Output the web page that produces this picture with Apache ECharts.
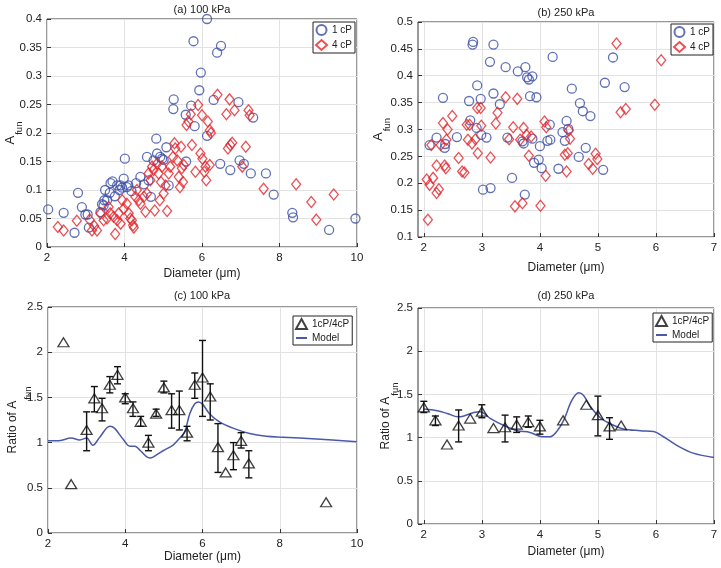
<!DOCTYPE html>
<html><head><meta charset="utf-8">
<script src="https://cdn.jsdelivr.net/npm/echarts@6/dist/echarts.min.js"></script>
<style>html,body{margin:0;padding:0;background:#fff}#c{width:721px;height:568px}</style>
</head><body><div id="c"></div>
<script>
// ---------- data ----------
const titles = ['(a) 100 kPa', '(b) 250 kPa', '(c) 100 kPa', '(d) 250 kPa'];
const xName = 'Diameter (\u03bcm)';
const ticksB = [2, 3, 4, 5, 6, 7];

// (a) 100 kPa, 1 cP
const a1cP = [[2.03,0.066],[2.43,0.060],[2.71,0.025],[2.80,0.095],[2.90,0.070],[2.99,0.057],[3.05,0.057],[3.08,0.034],
[3.38,0.061],[3.42,0.075],[3.46,0.073],[3.48,0.082],[3.50,0.100],[3.55,0.082],[3.62,0.095],[3.64,0.112],[3.69,0.115],
[3.75,0.089],[3.81,0.108],[3.87,0.100],[3.90,0.108],[3.94,0.104],[3.98,0.120],[4.01,0.155],[4.06,0.105],[4.10,0.108],
[4.18,0.098],[4.30,0.112],[4.41,0.123],[4.50,0.110],[4.58,0.158],[4.62,0.117],[4.68,0.088],[4.75,0.152],[4.82,0.190],
[4.84,0.164],[4.92,0.158],[4.97,0.155],[5.01,0.153],[5.08,0.175],[5.14,0.108],[5.26,0.242],[5.27,0.259],[5.58,0.232],
[5.59,0.150],[5.72,0.248],[5.78,0.361],[5.81,0.212],[5.93,0.275],[5.97,0.306],[6.13,0.400],[6.13,0.195],[6.30,0.258],
[6.39,0.341],[6.49,0.353],[6.47,0.146],[6.73,0.135],[6.94,0.254],[6.97,0.152],[7.08,0.146],[7.26,0.129],[7.32,0.227],
[7.65,0.129],[7.85,0.092],[8.33,0.060],[8.35,0.052],[9.28,0.030],[9.96,0.050]];
// (a) 100 kPa, 4 cP
const a4cP = [[2.28,0.035],[2.43,0.029],[2.77,0.046],[3.10,0.048],[3.16,0.029],[3.29,0.029],[3.22,0.037],[3.38,0.059],
[3.46,0.047],[3.55,0.050],[3.59,0.070],[3.63,0.059],[3.72,0.053],[3.76,0.023],[3.81,0.047],[3.85,0.059],[3.90,0.041],
[3.94,0.082],[3.98,0.067],[4.06,0.076],[4.11,0.059],[4.15,0.050],[4.19,0.047],[4.22,0.038],[4.24,0.034],[4.28,0.088],
[4.32,0.100],[4.37,0.082],[4.41,0.076],[4.50,0.088],[4.54,0.062],[4.58,0.094],[4.62,0.129],[4.67,0.117],[4.71,0.141],
[4.75,0.135],[4.78,0.064],[4.84,0.146],[4.88,0.129],[4.91,0.082],[4.94,0.114],[4.97,0.141],[5.01,0.094],[5.06,0.108],
[5.10,0.063],[5.14,0.129],[5.18,0.141],[5.25,0.158],[5.29,0.182],[5.31,0.173],[5.36,0.152],[5.40,0.123],[5.43,0.105],
[5.46,0.176],[5.48,0.138],[5.51,0.114],[5.53,0.144],[5.60,0.214],[5.65,0.220],[5.71,0.233],[5.74,0.179],[5.83,0.132],
[5.90,0.249],[6.00,0.231],[5.96,0.164],[6.01,0.155],[6.06,0.132],[6.09,0.141],[6.11,0.117],[6.15,0.220],[6.20,0.205],
[6.20,0.144],[6.23,0.200],[6.40,0.267],[6.63,0.233],[6.67,0.173],[6.71,0.259],[6.73,0.179],[6.78,0.183],[6.84,0.240],
[7.04,0.141],[7.13,0.176],[7.20,0.240],[7.23,0.231],[7.59,0.102],[8.43,0.110],[8.82,0.079],[8.95,0.048],[9.40,0.092]];

// (b) 250 kPa, 1 cP
const b1cP = [[2.10,0.271],[2.22,0.285],[2.37,0.273],[2.33,0.359],[2.36,0.266],[2.57,0.286],[2.78,0.353],[2.80,0.317],
[2.84,0.458],[2.85,0.463],[2.92,0.382],[2.91,0.303],[2.98,0.357],[2.99,0.290],[3.02,0.188],[3.08,0.285],[3.14,0.426],
[3.15,0.191],[3.20,0.367],[3.20,0.458],[3.31,0.347],[3.41,0.416],[3.44,0.285],[3.52,0.210],[3.62,0.408],[3.70,0.278],
[3.72,0.274],[3.74,0.179],[3.75,0.416],[3.78,0.397],[3.81,0.393],[3.83,0.362],[3.87,0.399],[3.87,0.283],[3.90,0.238],
[3.94,0.360],[3.98,0.244],[4.00,0.269],[4.03,0.228],[4.13,0.279],[4.17,0.309],[4.18,0.281],[4.22,0.435],[4.32,0.227],
[4.39,0.295],[4.43,0.279],[4.46,0.316],[4.49,0.301],[4.55,0.376],[4.67,0.249],[4.69,0.349],[4.74,0.334],[4.79,0.266],
[4.87,0.325],[5.09,0.225],[5.12,0.387],[5.26,0.434],[5.46,0.379]];
// (b) 250 kPa, 4 cP
const b4cP = [[2.07,0.132],[2.05,0.207],[2.10,0.197],[2.13,0.271],[2.16,0.210],[2.22,0.182],[2.22,0.233],[2.26,0.189],
[2.29,0.271],[2.33,0.312],[2.36,0.233],[2.38,0.228],[2.39,0.281],[2.41,0.300],[2.49,0.325],[2.60,0.247],[2.66,0.222],
[2.70,0.220],[2.74,0.309],[2.76,0.281],[2.79,0.309],[2.83,0.274],[2.89,0.282],[2.92,0.340],[2.93,0.256],[2.98,0.340],
[2.99,0.307],[3.15,0.248],[3.24,0.311],[3.27,0.331],[3.41,0.360],[3.47,0.282],[3.54,0.304],[3.57,0.157],[3.61,0.357],
[3.66,0.281],[3.70,0.163],[3.72,0.303],[3.77,0.290],[3.81,0.251],[3.85,0.287],[4.01,0.158],[4.08,0.315],[4.10,0.214],
[4.11,0.304],[4.43,0.253],[4.46,0.222],[4.48,0.256],[4.50,0.298],[4.52,0.283],[4.84,0.236],[4.91,0.227],[4.96,0.255],
[4.99,0.245],[5.32,0.460],[5.39,0.332],[5.48,0.338],[5.98,0.346],[6.09,0.429]];

// (c) 100 kPa ratio 1cP/4cP, error bars [x, low, high], model curve
const cRatio = [[2.4,2.11],[2.6,0.54],[3.0,1.14],[3.2,1.49],[3.4,1.38],[3.6,1.64],[3.8,1.75],[4.0,1.50],[4.2,1.38],
[4.4,1.23],[4.6,1.00],[4.8,1.32],[5.0,1.61],[5.2,1.36],[5.4,1.36],[5.6,1.11],[5.8,1.64],[6.0,1.72],[6.2,1.51],
[6.4,0.95],[6.6,0.67],[6.8,0.86],[7.0,1.02],[7.2,0.77],[9.2,0.34]];
const cErr = [[3.0,0.91,1.34],[3.2,1.34,1.62],[3.4,1.24,1.49],[3.6,1.55,1.73],[3.8,1.65,1.84],[4.0,1.43,1.54],
[4.2,1.29,1.45],[4.4,1.18,1.29],[4.6,0.91,1.08],[4.8,1.29,1.37],[5.0,1.55,1.68],[5.2,1.16,1.54],[5.4,1.14,1.57],
[5.6,1.02,1.18],[5.8,1.49,1.77],[6.0,1.29,2.13],[6.2,1.25,1.65],[6.4,0.67,1.21],[6.8,0.70,1.00],[7.0,0.94,1.11],
[7.2,0.61,0.91]];
const cModel = [[2.0,1.02],[2.26,1.02],[2.6,1.05],[2.82,1.03],[3.0,1.05],[3.16,0.97],[3.34,1.06],[3.6,1.18],[3.72,1.16],
[3.94,1.04],[4.12,0.96],[4.25,0.96],[4.37,0.92],[4.63,0.83],[4.72,0.84],[4.98,0.91],[5.23,0.97],[5.41,1.05],[5.54,1.12],
[5.67,1.32],[5.8,1.43],[5.9,1.45],[6.01,1.42],[6.18,1.32],[6.44,1.23],[6.79,1.16],[7.22,1.10],[7.65,1.07],[8.08,1.06],
[8.95,1.04],[10.0,1.01]];

// (d) 250 kPa ratio
const dRatio = [[2.0,1.35],[2.2,1.20],[2.4,0.92],[2.6,1.14],[2.8,1.22],[3.0,1.30],[3.2,1.11],[3.4,1.12],[3.6,1.15],
[3.8,1.18],[4.0,1.13],[4.4,1.20],[4.8,1.38],[5.0,1.26],[5.2,1.13],[5.4,1.14]];
const dErr = [[2.0,1.29,1.42],[2.2,1.14,1.25],[2.6,0.95,1.32],[3.0,1.23,1.38],[3.4,0.95,1.26],[3.6,1.06,1.24],
[3.8,1.12,1.25],[4.0,1.04,1.20],[5.0,1.02,1.48],[5.2,0.98,1.23]];
const dModel = [[2.0,1.33],[2.23,1.31],[2.4,1.28],[2.59,1.24],[2.69,1.25],[2.86,1.29],[2.97,1.30],[3.15,1.22],[3.38,1.14],
[3.61,1.08],[3.83,1.06],[4.04,1.01],[4.18,1.01],[4.29,1.07],[4.41,1.20],[4.55,1.43],[4.67,1.52],[4.75,1.49],[4.87,1.36],
[5.04,1.23],[5.21,1.16],[5.44,1.10],[5.73,1.08],[5.96,1.07],[6.13,1.01],[6.36,0.91],[6.64,0.82],[7.0,0.77]];

// ---------- styles ----------
const FONT = "'Liberation Sans',Arial,sans-serif";
const BLUE = '#3a4ea5', RED = '#e3262c', LINE = '#4a5aa8', TXT = '#222';
const grids = [
  {left:47, top:19, width:310, height:228},
  {left:418, top:22, width:296, height:215},
  {left:48, top:307, width:309, height:226},
  {left:418, top:308, width:296, height:216}
].map(g => Object.assign({show:true, borderColor:'#333', borderWidth:1, backgroundColor:'#fff', outerBoundsMode:'none', containLabel:false}, g));

function xAx(i, min, max, interval, custom, gap) {
  const ax = {type:'value', gridIndex:i, min, max, name:xName, nameLocation:'middle', nameGap:gap,
    nameTextStyle:{fontSize:12, color:TXT, fontFamily:FONT},
    axisLine:{show:false}, axisTick:{show:true, inside:true, length:4, lineStyle:{color:'#333'}},
    axisLabel:{fontSize:11.5, color:TXT, fontFamily:FONT, margin:5},
    splitLine:{show:true, lineStyle:{color:'#e2e2e2', width:1}}};
  if (interval) ax.interval = interval;
  if (custom) { ax.axisTick.customValues = custom; ax.axisLabel.customValues = custom; }
  return ax;
}
function yAx(i, min, max, interval, name, gap, rich) {
  return {type:'value', gridIndex:i, min, max, interval, name, nameLocation:'middle', nameGap:gap, nameRotate:90,
    nameMoveOverlap:false,
    nameTextStyle:{color:TXT, fontFamily:FONT, rich},
    axisLine:{show:false}, axisTick:{show:true, inside:true, length:4, lineStyle:{color:'#333'}},
    axisLabel:{fontSize:11.5, color:TXT, fontFamily:FONT, margin:5},
    splitLine:{show:true, lineStyle:{color:'#e2e2e2', width:1}}};
}
function rich(mainSize, subPad) {
  return {a:{fontSize:mainSize, fontFamily:FONT, color:TXT, verticalAlign:'top', lineHeight:15},
          s:{fontSize:9.5, fontFamily:FONT, color:TXT, verticalAlign:'top', lineHeight:10, padding:[subPad,0,0,1]}};
}

function scat(name, data, i, color, symbol, size) {
  return {type:'scatter', name, data, xAxisIndex:i, yAxisIndex:i, symbol, symbolSize:size,
    itemStyle:{color:'rgba(0,0,0,0)', borderColor:color, borderWidth:1.3}, emphasis:{disabled:true}, z:3};
}
function errRender(params, api) {
  const x = api.value(0), lo = api.value(1), hi = api.value(2);
  const p1 = api.coord([x, lo]), p2 = api.coord([x, hi]);
  const w = 3.5, st = {stroke:'#111', lineWidth:1.4};
  return {type:'group', children:[
    {type:'line', shape:{x1:p1[0], y1:p1[1], x2:p2[0], y2:p2[1]}, style:st},
    {type:'line', shape:{x1:p1[0]-w, y1:p1[1], x2:p1[0]+w, y2:p1[1]}, style:st},
    {type:'line', shape:{x1:p2[0]-w, y1:p2[1], x2:p2[0]+w, y2:p2[1]}, style:st}
  ]};
}
function errSeries(data, i) {
  return {type:'custom', data, xAxisIndex:i, yAxisIndex:i, renderItem:errRender, encode:{x:0, y:[1,2]}, z:2, silent:true};
}
function model(data, i) {
  return {type:'line', name:'Model', data, xAxisIndex:i, yAxisIndex:i, smooth:0.35, symbol:'none', showSymbol:false,
    lineStyle:{color:LINE, width:1.5}, itemStyle:{color:LINE}, z:1};
}
function legend(left, top, names) {
  return {left, top, orient:'vertical', data:names, backgroundColor:'#fff', borderColor:'#222', borderWidth:1,
    padding:[2,3,2,2], itemGap:3, itemWidth:11, itemHeight:10, selectedMode:false,
    textStyle:{fontSize:10, color:TXT, fontFamily:FONT}};
}
function title(x, y, text) {
  return {type:'text', x, y, style:{text, fontSize:11, fill:TXT, fontFamily:FONT, align:'center', verticalAlign:'middle'}, z:10};
}
const legendAB = ['1 cP', '4 cP'];
const legendCD = ['1cP/4cP', {name:'Model', itemStyle:{opacity:0}}];

const option = {
  animation:false,
  backgroundColor:'#fff',
  grid: grids,
  xAxis: [xAx(0,2,10,2,null,21), xAx(1,1.9,7,null,ticksB,25), xAx(2,2,10,2,null,18), xAx(3,1.9,7,null,ticksB,22)],
  yAxis: [yAx(0,0,0.4,0.05,'{a|A}{s|fun}',28.5,rich(13,11)), yAx(1,0.1,0.5,0.05,'{a|A}{s|fun}',31,rich(13,10)),
          yAx(2,0,2.5,0.5,'{a|Ratio of A}{s|fun}',26,rich(12,16.5)), yAx(3,0,2.5,0.5,'{a|Ratio of A}{s|fun}',23.5,rich(12,11))],
  legend: [legend(313,22,legendAB), legend(671,24,legendAB),
           legend(293,316,legendCD), legend(653,313,legendCD)],
  graphic: [title(202,10,titles[0]), title(566,13,titles[1]), title(202,296,titles[2]), title(566,296,titles[3])],
  series: [
    scat('1 cP', a1cP, 0, BLUE, 'circle', 9),
    scat('4 cP', a4cP, 0, RED, 'diamond', [9,11]),
    scat('1 cP', b1cP, 1, BLUE, 'circle', 9),
    scat('4 cP', b4cP, 1, RED, 'diamond', [9,11]),
    model(cModel, 2),
    errSeries(cErr, 2),
    scat('1cP/4cP', cRatio, 2, '#111', 'triangle', [11,9]),
    model(dModel, 3),
    errSeries(dErr, 3),
    scat('1cP/4cP', dRatio, 3, '#111', 'triangle', [11,9])
  ]
};
const chart = echarts.init(document.getElementById('c'), null, {renderer:'canvas'});
chart.setOption(option);
</script></body></html>
